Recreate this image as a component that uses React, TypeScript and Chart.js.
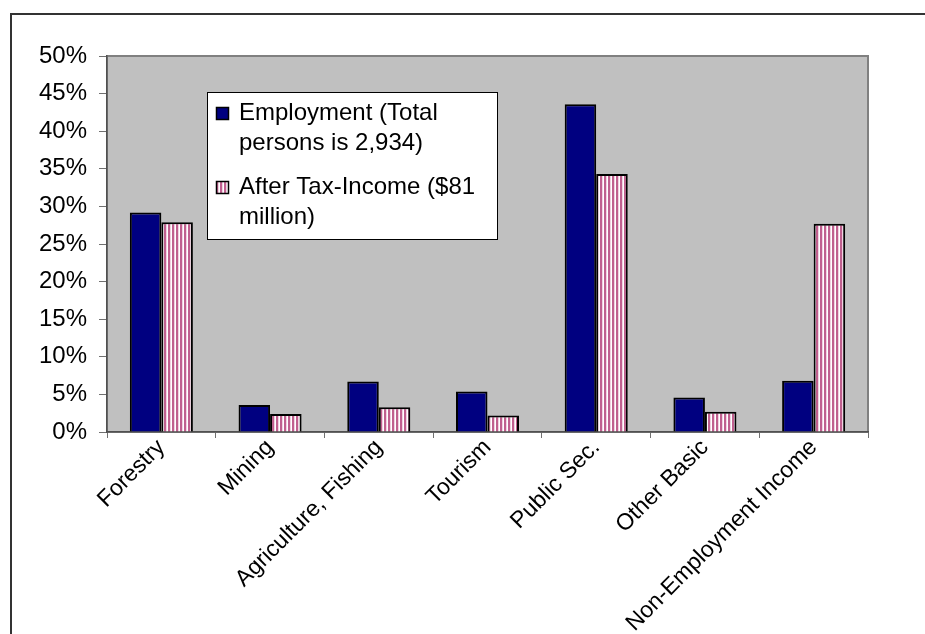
import React, { useEffect, useRef } from "react";
import { Chart, registerables } from "chart.js";

Chart.register(...registerables);

const categories = [
  "Forestry",
  "Mining",
  "Agriculture, Fishing",
  "Tourism",
  "Public Sec.",
  "Other Basic",
  "Non-Employment Income",
];
const employment = [29.2, 3.6, 6.7, 5.4, 43.6, 4.6, 6.8];
const afterTaxIncome = [27.9, 2.4, 3.3, 2.2, 34.3, 2.7, 27.7];
const employmentLegend = ["Employment (Total", "persons is 2,934)"];
const incomeLegend = ["After Tax-Income ($81", "million)"];
const yMin = 0;
const yMax = 50;
const yStep = 5;

const FONT = '"Liberation Sans", Arial, sans-serif';

export default function App() {
  const ref = useRef<HTMLCanvasElement>(null);

  useEffect(() => {
    const canvas = ref.current!;
    const pc = document.createElement("canvas");
    pc.width = 4;
    pc.height = 4;
    const pctx = pc.getContext("2d")!;
    const cols = ["#c0608f", "#c0608f", "#f0d2e1", "#ffffff"];
    cols.forEach((c, i) => {
      pctx.fillStyle = c;
      pctx.fillRect(i, 0, 1, 4);
    });
    const pattern = canvas.getContext("2d")!.createPattern(pc, "repeat")!;

    const framePlugin = {
      id: "frame",
      beforeDraw(chart: any) {
        const ctx = chart.ctx;
        const a = chart.chartArea;
        ctx.save();
        ctx.strokeStyle = "#333333";
        ctx.lineWidth = 2;
        ctx.beginPath();
        ctx.moveTo(11, chart.height);
        ctx.lineTo(11, 14);
        ctx.lineTo(chart.width, 14);
        ctx.stroke();
        ctx.fillStyle = "#c0c0c0";
        ctx.fillRect(a.left, a.top, a.right - a.left, a.bottom - a.top);
        ctx.strokeStyle = "#808080";
        ctx.lineWidth = 2;
        ctx.strokeRect(a.left, a.top, a.right - a.left, a.bottom - a.top);
        ctx.restore();
      },
      afterDatasetsDraw(chart: any) {
        const ctx = chart.ctx;
        const a = chart.chartArea;
        const bx = a.left + 100;
        const by = a.top + 36;
        const bw = 291;
        const bh = 148;
        ctx.save();
        ctx.fillStyle = "#ffffff";
        ctx.fillRect(bx, by, bw, bh);
        ctx.strokeStyle = "#000000";
        ctx.lineWidth = 1;
        ctx.strokeRect(bx + 0.5, by + 0.5, bw - 1, bh - 1);
        ctx.font = `24px ${FONT}`;
        ctx.textBaseline = "middle";
        ctx.textAlign = "left";
        const groups = [
          { lines: employmentLegend, fill: "#000080", y: by + 21 },
          { lines: incomeLegend, fill: pattern, y: by + 95 },
        ];
        groups.forEach((g) => {
          ctx.fillStyle = g.fill as any;
          ctx.fillRect(bx + 9, g.y - 6, 13, 13);
          ctx.strokeStyle = "#000";
          ctx.lineWidth = 1.5;
          ctx.strokeRect(bx + 9.5, g.y - 5.5, 12, 12);
          ctx.fillStyle = "#000";
          g.lines.forEach((t, i) => {
            ctx.fillText(t, bx + 32, g.y + i * 30);
          });
        });
        ctx.restore();
      },
    };

    const chart = new Chart(canvas, {
      type: "bar",
      data: {
        labels: categories,
        datasets: [
          {
            label: employmentLegend.join(" "),
            data: employment,
            backgroundColor: "#000080",
            borderColor: "#000000",
            borderWidth: 2,
            categoryPercentage: 0.58,
            barPercentage: 1,
          },
          {
            label: incomeLegend.join(" "),
            data: afterTaxIncome,
            backgroundColor: pattern as any,
            borderColor: "#000000",
            borderWidth: 2,
            categoryPercentage: 0.58,
            barPercentage: 1,
          },
        ],
      },
      options: {
        animation: false,
        responsive: false,
        maintainAspectRatio: false,
        layout: { padding: { left: 0, right: 57, top: 56, bottom: 0 } },
        plugins: {
          legend: { display: false },
          tooltip: { enabled: false },
        },
        scales: {
          x: {
            grid: {
              offset: true,
              drawOnChartArea: false,
              tickLength: 6,
              color: "#707070",
              lineWidth: 1,
            },
            border: { color: "#505050", width: 1.5 },
            ticks: {
              autoSkip: false,
              minRotation: 45,
              maxRotation: 45,
              padding: -4,
              color: "#000",
              font: { family: FONT, size: 23 },
            },
            afterFit(scale: any) {
              scale.height = 202;
            },
          },
          y: {
            min: yMin,
            max: yMax,
            grid: {
              drawOnChartArea: false,
              tickLength: 8,
              color: "#707070",
            },
            border: { color: "#505050", width: 1.5 },
            ticks: {
              stepSize: yStep,
              padding: 12,
              color: "#000",
              font: { family: FONT, size: 24 },
              callback: (v: any) => `${v}%`,
            },
            afterFit(scale: any) {
              scale.width = 107;
            },
          },
        },
      },
      plugins: [framePlugin],
    });
    return () => chart.destroy();
  }, []);

  return (
    <div style={{ position: "absolute", left: 0, top: 0, width: 925, height: 634, background: "#fff" }}>
      <canvas ref={ref} width={925} height={634} style={{ display: "block" }} />
    </div>
  );
}
